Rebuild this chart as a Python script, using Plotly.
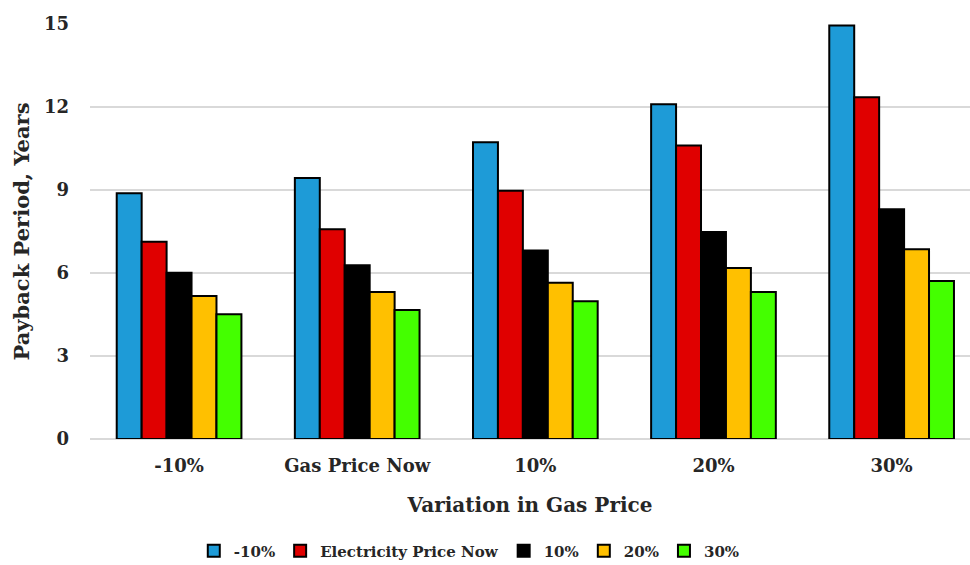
import plotly.graph_objects as go

# Payback period (years) for each gas price variation, per electricity price scenario
categories = ["-10%", "Gas Price Now", "10%", "20%", "30%"]
series_names = ["-10%", "Electricity Price Now", "10%", "20%", "30%"]
elec_minus10 = [8.88, 9.43, 10.73, 12.10, 14.95]
elec_now = [7.13, 7.58, 8.97, 10.61, 12.35]
elec_plus10 = [6.01, 6.28, 6.81, 7.48, 8.30]
elec_plus20 = [5.17, 5.31, 5.65, 6.18, 6.86]
elec_plus30 = [4.51, 4.66, 4.98, 5.31, 5.71]
y_ticks = [0, 3, 6, 9, 12, 15]

series_values = [elec_minus10, elec_now, elec_plus10, elec_plus20, elec_plus30]
colors = ["#1e9bd7", "#e00000", "#000000", "#ffc000", "#44ff00"]

FONT = "DejaVu Serif"
TXT = "#262626"

fig = go.Figure()
for name, vals, col in zip(series_names, series_values, colors):
    fig.add_trace(go.Bar(
        x=categories, y=vals, name=name,
        marker=dict(color=col, line=dict(color="#000000", width=2)),
    ))

fig.update_layout(
    width=970, height=565,
    margin=dict(l=90, r=0, t=24, b=126),
    paper_bgcolor="white", plot_bgcolor="white",
    barmode="group", bargap=0.3, bargroupgap=0,
    font=dict(family=FONT, size=15, color=TXT),
    xaxis=dict(
        range=[-0.5, 4.44], automargin=False,
        tickfont=dict(family=FONT, size=18, color=TXT, weight="bold"),
        title=dict(text="<b>Variation in Gas Price</b>", font=dict(family=FONT, size=20, color=TXT), standoff=22),
        showline=False, ticks="", ticklabelstandoff=14,
    ),
    yaxis=dict(
        range=[0, 15], tickvals=y_ticks, automargin=False,
        tickfont=dict(family=FONT, size=18, color=TXT, weight="bold"),
        title=dict(text="<b>Payback Period, Years</b>", font=dict(family=FONT, size=21, color=TXT), standoff=8),
        gridcolor="#d9d9d9", gridwidth=1.5, zeroline=True, zerolinecolor="#d9d9d9", zerolinewidth=1.5,
        ticks="", ticklabelstandoff=20,
    ),
    legend=dict(
        orientation="h", x=0.431, xanchor="center",
        yref="container", y=1 - 551 / 565, yanchor="middle",
        font=dict(family=FONT, size=15, color=TXT, weight="bold"),
        traceorder="normal", itemwidth=30,
    ),
)

fig.write_html("out.html")
